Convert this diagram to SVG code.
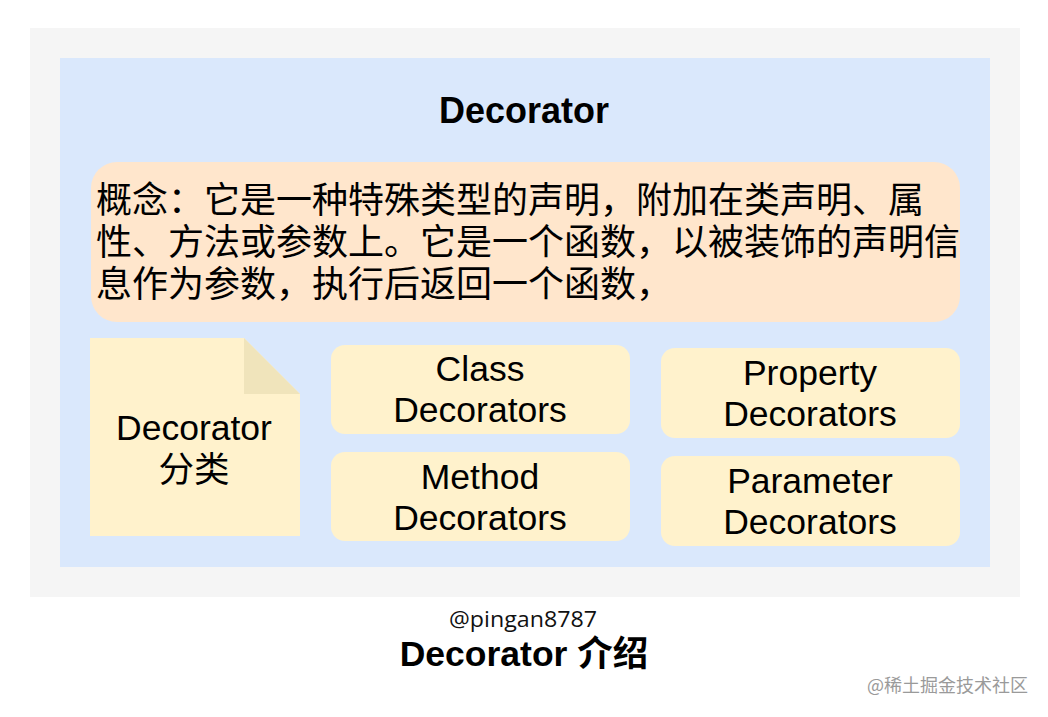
<svg xmlns="http://www.w3.org/2000/svg" width="1048" height="717" viewBox="0 0 1048 717">
<style>
.sans{font-family:"Liberation Sans",Arial,"Noto Sans CJK SC",sans-serif;}
.box{fill:#fff2cc;}
.lbl{font-size:35.5px;fill:#000;text-anchor:middle;}
.body{font-size:36px;fill:#000;font-family:"Noto Sans CJK SC",sans-serif;}
</style>
<rect x="0" y="0" width="1048" height="717" fill="#ffffff"/>
<g id="background">
<rect x="30" y="28" width="990" height="569" fill="#f5f5f5"/>
</g>
<g id="container">
<rect x="60" y="58" width="930" height="509" fill="#dae8fc"/>
<text class="sans" x="524" y="123" font-size="36" font-weight="bold" text-anchor="middle">Decorator</text>
</g>
<g id="concept">
<rect x="91" y="162" width="869" height="160" rx="26" ry="26" fill="#ffe6cc"/>
<text class="body"><tspan x="96" y="213">概念：它是一种特殊类型的声明，附加在类声明、属</tspan><tspan x="96" y="255">性、方法或参数上。它是一个函数，以被装饰的声明信</tspan><tspan x="96" y="297">息作为参数，执行后返回一个函数，</tspan></text>
</g>
<g id="category">
<path d="M90 338 H244 L300 394 V536 H90 Z" fill="#fff2cc"/>
<path d="M244 338 L300 394 H244 Z" fill="#f0e4bb"/>
<text class="sans lbl"><tspan x="194" y="440">Decorator</tspan><tspan x="194" y="482">分类</tspan></text>
</g>
<g id="class-decorators">
<rect class="box" x="331" y="345" width="299" height="89" rx="14" ry="14"/>
<text class="sans lbl"><tspan x="480" y="381">Class</tspan><tspan x="480" y="422">Decorators</tspan></text>
</g>
<g id="method-decorators">
<rect class="box" x="331" y="452" width="299" height="89" rx="14" ry="14"/>
<text class="sans lbl"><tspan x="480" y="488.5">Method</tspan><tspan x="480" y="529.5">Decorators</tspan></text>
</g>
<g id="property-decorators">
<rect class="box" x="661" y="348" width="299" height="90" rx="14" ry="14"/>
<text class="sans lbl"><tspan x="810" y="385">Property</tspan><tspan x="810" y="426">Decorators</tspan></text>
</g>
<g id="parameter-decorators">
<rect class="box" x="661" y="456" width="299" height="90" rx="14" ry="14"/>
<text class="sans lbl"><tspan x="810" y="493">Parameter</tspan><tspan x="810" y="534">Decorators</tspan></text>
</g>
<g id="connectors"></g>
<g id="caption">
<text x="523" y="627" font-family="'Open Sans','Noto Sans',sans-serif" font-size="21" text-anchor="middle" fill="#111" textLength="148" lengthAdjust="spacingAndGlyphs">@pingan8787</text>
<text x="524" y="666" font-family="'Liberation Sans',Arial,'Noto Sans CJK SC',sans-serif" font-size="35.5" font-weight="bold" text-anchor="middle" fill="#000">Decorator 介绍</text>
</g>
<g id="watermark">
<text x="867" y="692" font-family="'Noto Sans CJK SC',sans-serif" font-size="18" fill="#9a9a9a">@稀土掘金技术社区</text>
</g>
</svg>
